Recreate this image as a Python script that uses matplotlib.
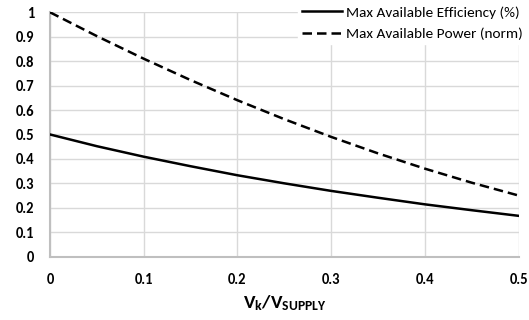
import matplotlib
matplotlib.use("Agg")
import matplotlib.pyplot as plt

x_ratio = [0.0, 0.05, 0.1, 0.15, 0.2, 0.25, 0.3, 0.35, 0.4, 0.45, 0.5]
efficiency = [0.50, 0.452, 0.409, 0.370, 0.333, 0.300, 0.269, 0.241, 0.214, 0.190, 0.167]
power = [1.00, 0.9025, 0.81, 0.7225, 0.64, 0.5625, 0.49, 0.4225, 0.36, 0.3025, 0.25]
x_ticks = [0, 0.1, 0.2, 0.3, 0.4, 0.5]
x_tick_labels = ["0", "0.1", "0.2", "0.3", "0.4", "0.5"]
y_ticks = [0, 0.1, 0.2, 0.3, 0.4, 0.5, 0.6, 0.7, 0.8, 0.9, 1.0]
y_tick_labels = ["0", "0.1", "0.2", "0.3", "0.4", "0.5", "0.6", "0.7", "0.8", "0.9", "1"]
series_names = ["Max Available Efficiency (%)", "Max Available Power (norm)"]

plt.rcParams['font.family'] = ['Carlito', 'DejaVu Sans']
plt.rcParams['mathtext.fontset'] = 'custom'
plt.rcParams['mathtext.rm'] = 'Carlito'
plt.rcParams['mathtext.bf'] = 'Carlito:bold'
plt.rcParams['mathtext.it'] = 'Carlito:italic'

fig = plt.figure(figsize=(5.29, 3.2), dpi=100)
ax = fig.add_axes([0.0945, 0.198, 0.886, 0.7636])

ax.plot(x_ratio, efficiency, color='black', lw=1.8, label=series_names[0], zorder=3)
ax.plot(x_ratio, power, color='black', lw=1.8, ls=(0, (3.8, 2)), label=series_names[1], zorder=3)

ax.set_xlim(0, 0.5)
ax.set_ylim(0, 1)
ax.set_xticks(x_ticks)
ax.set_xticklabels(x_tick_labels, fontweight='bold', fontsize=10.5)
ax.set_yticks(y_ticks)
ax.set_yticklabels(y_tick_labels, fontweight='bold', fontsize=10.5)
ax.tick_params(axis='both', length=0, colors='black')
ax.tick_params(axis='x', pad=11.5)
ax.tick_params(axis='y', pad=11.5)
ax.grid(True, color='#d9d9d9', lw=1.0, zorder=0)
ax.set_axisbelow(True)
for s in ['top', 'right']:
    ax.spines[s].set_visible(False)
for s in ['left', 'bottom']:
    ax.spines[s].set_color('#bfbfbf')
    ax.spines[s].set_linewidth(1.5)

ax.set_xlabel(r'$\mathbf{V_k/V_{SUPPLY}}$', fontsize=14, labelpad=5)

leg = fig.legend(loc='upper right', bbox_to_anchor=(1.0, 1.0), frameon=True,
                 fontsize=11, handlelength=2.6, handletextpad=0.26,
                 borderpad=0.3, labelspacing=0.55, borderaxespad=0.1)
leg.get_frame().set_facecolor('white')
leg.get_frame().set_edgecolor('white')
leg.get_frame().set_alpha(1)
leg.get_frame().set_boxstyle('square', pad=0)
leg.set_zorder(5)

fig.savefig('out.png', dpi=100, facecolor='white')
